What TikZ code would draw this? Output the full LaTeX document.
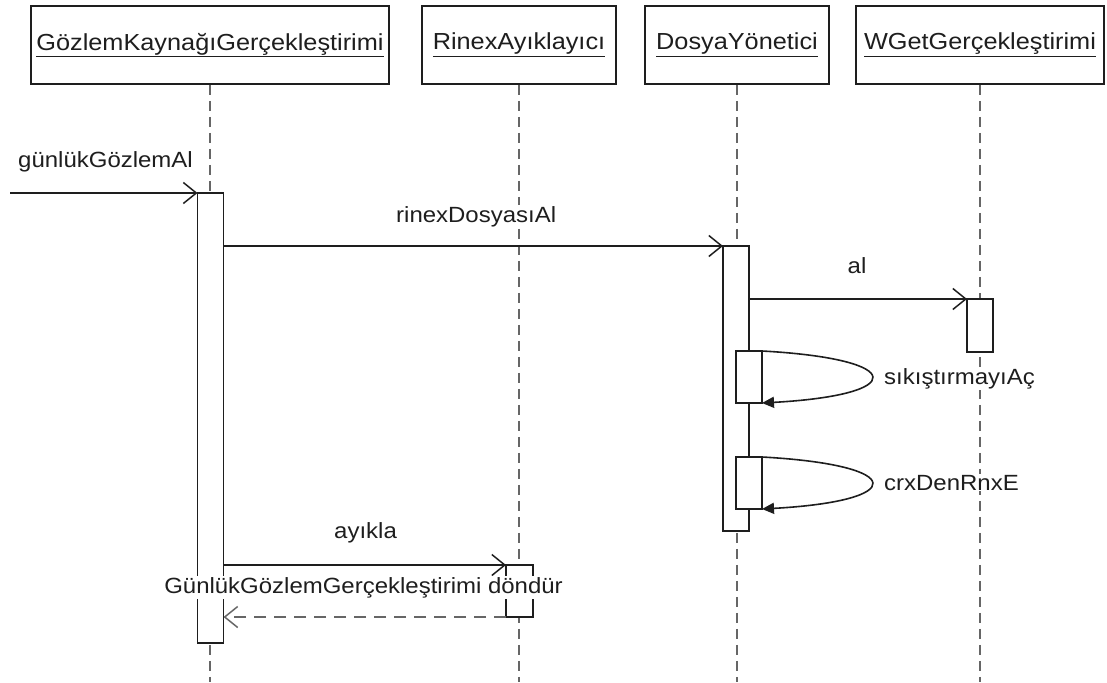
\documentclass[tikz,border=0pt]{standalone}
\usepackage{fontspec}
\setmainfont{Liberation Sans}[FakeStretch=1.09]
\usetikzlibrary{arrows.meta,calc}

\definecolor{ink}{HTML}{1E1E1E}
\definecolor{lifegray}{HTML}{666666}

\begin{document}
\begin{tikzpicture}[x=1pt,y=-1pt,
  lbl/.style={font=\fontsize{22}{26}\selectfont, text=ink, fill=white, inner sep=1pt},
  objbox/.style={draw=ink, line width=1.6pt, fill=white, minimum height=78pt,
                 inner sep=0pt, font=\fontsize{23.2}{27}\selectfont, text=ink},
  lifeline/.style={draw=lifegray, line width=2pt, dash pattern=on 10pt off 6pt},
  act/.style={draw=ink, line width=1.6pt, fill=white, minimum width=26pt,
              inner sep=0pt, outer sep=0pt},
  call/.style={draw=ink, line width=1.6pt,
               -{Straight Barb[length=13pt,width=21pt,line width=1.5pt]}},
  selfcall/.style={draw=ink, line width=1.6pt,
               -{Triangle[length=12pt,width=11pt]}},
  reply/.style={draw=lifegray, line width=2pt, dash pattern=on 12pt off 8pt,
               -{Straight Barb[length=13pt,width=21pt,line width=1.5pt]}}]

\useasboundingbox (0,0) rectangle (1107,682);
\fill[white] (0,0) rectangle (1107,682);

% object headers
\node[objbox, minimum width=358pt] (o1) at (210,45) {\underline{GözlemKaynağıGerçekleştirimi}};
\node[objbox, minimum width=194pt] (o2) at (519,45) {\underline{RinexAyıklayıcı}};
\node[objbox, minimum width=184pt] (o3) at (737,45) {\underline{DosyaYönetici}};
\node[objbox, minimum width=248pt] (o4) at (980,45) {\underline{WGetGerçekleştirimi}};

% lifeline ends
\coordinate (e1) at (210,682);
\coordinate (e2) at (519,682);
\coordinate (e3) at (737,682);
\coordinate (e4) at (980,682);

\draw[lifeline] (o1.south) -- (e1);
\draw[lifeline] (o2.south) -- (e2);
\draw[lifeline] (o3.south) -- (e3);
\draw[lifeline] (o4.south) -- (e4);

% activation bars
\node[act, minimum height=450pt] (a1) at (210.5,418) {};
\node[act, minimum height=52pt, minimum width=27pt] (a2) at (519.5,591) {};
\node[act, minimum height=285pt] (a3) at (736,388.5) {};
\node[act, minimum height=53pt] (a4) at (980,325.5) {};
\node[act, minimum height=52pt] (s1) at (749,377) {};
\node[act, minimum height=52pt] (s2) at (749,483) {};

% found message
\coordinate (start) at (10,193);
\draw[call] (start) -- (a1.north west);
\node[lbl, anchor=base west] (m0) at (17,167) {günlükGözlemAl};

% rinexDosyasıAl
\draw[call] (a1.east |- a3.north) -- (a3.north west);
\node[lbl, anchor=base west] (m1) at (395,222) {rinexDosyasıAl};

% al
\draw[call] (a3.east |- a4.north) -- (a4.north west);
\node[lbl, anchor=base] (m2) at (857,273) {al};

% self calls
\draw[selfcall] (s1.north east) .. controls ($(s1.north east)+(146,8)$) and ($(s1.south east)+(146,-8)$) .. (s1.south east);
\node[lbl, anchor=base west] (m3) at (883,384) {sıkıştırmayıAç};
\draw[selfcall] (s2.north east) .. controls ($(s2.north east)+(146,8)$) and ($(s2.south east)+(146,-8)$) .. (s2.south east);
\node[lbl, anchor=base west] (m4) at (883,490) {crxDenRnxE};

% ayıkla and its reply
\draw[call] (a1.east |- a2.north) -- (a2.north west);
\node[lbl, anchor=base west] (m5) at (333,538) {ayıkla};
\draw[reply] (a2.south west) -- (a1.east |- a2.south);
\node[lbl, anchor=base] (m6) at (363.5,593) {GünlükGözlemGerçekleştirimi döndür};

\end{tikzpicture}
\end{document}
